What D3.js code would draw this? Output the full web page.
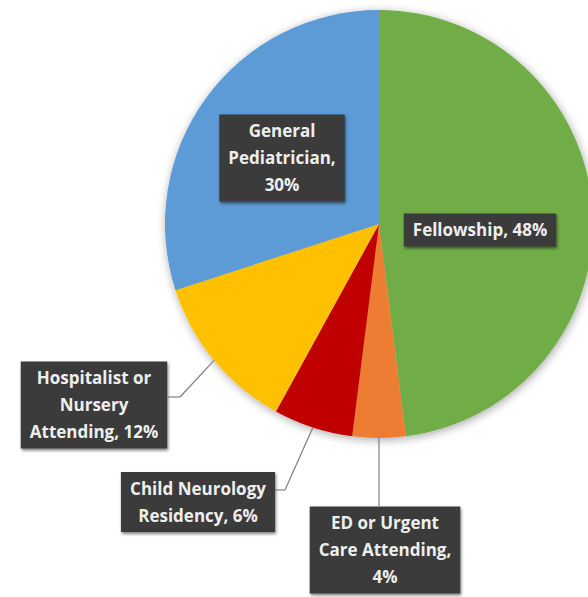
<!DOCTYPE html>
<html><head><meta charset="utf-8">
<script src="https://cdn.jsdelivr.net/npm/d3@7"></script>
<style>body{margin:0;background:#fff}svg{display:block}</style>
</head><body>
<svg id="c" width="588" height="597"></svg>
<script>
const categories = ["Fellowship", "ED or Urgent Care Attending", "Child Neurology Residency", "Hospitalist or Nursery Attending", "General Pediatrician"];
const values = [48, 4, 6, 12, 30];
const colors = ["#70AD47", "#ED7D31", "#C00000", "#FFC000", "#5B9BD5"];
const labelLines = [
  ["Fellowship, 48%"],
  ["ED or Urgent", "Care Attending,", "4%"],
  ["Child Neurology", "Residency, 6%"],
  ["Hospitalist or", "Nursery", "Attending, 12%"],
  ["General", "Pediatrician,", "30%"]
];
// label box centres (layout) and leader elbows
const labelPos = [[480, 230], [385, 550], [198, 502], [94, 405], [282, 158]];
const elbows = [null, null, [285, 490], [180, 397], null];

const svg = d3.select("#c");
const cx = 379, cy = 224, R = 214;
const defs = svg.append("defs");
const f = defs.append("filter").attr("id", "sh").attr("x", "-20%").attr("y", "-20%").attr("width", "140%").attr("height", "140%");
f.append("feGaussianBlur").attr("in", "SourceAlpha").attr("stdDeviation", 5).attr("result", "b");
f.append("feOffset").attr("in", "b").attr("dx", 1).attr("dy", 2).attr("result", "o");
f.append("feComponentTransfer").attr("in", "o").attr("result", "o2").append("feFuncA").attr("type", "linear").attr("slope", 0.35);
const m = f.append("feMerge"); m.append("feMergeNode").attr("in", "o2"); m.append("feMergeNode").attr("in", "SourceGraphic");
const f2 = defs.append("filter").attr("id", "sh2").attr("x", "-20%").attr("y", "-20%").attr("width", "140%").attr("height", "140%");
f2.append("feGaussianBlur").attr("in", "SourceAlpha").attr("stdDeviation", 1.5).attr("result", "b");
f2.append("feOffset").attr("in", "b").attr("dx", 1).attr("dy", 1.5).attr("result", "o");
f2.append("feComponentTransfer").attr("in", "o").attr("result", "o2").append("feFuncA").attr("type", "linear").attr("slope", 0.5);
const m2 = f2.append("feMerge"); m2.append("feMergeNode").attr("in", "o2"); m2.append("feMergeNode").attr("in", "SourceGraphic");

const pie = d3.pie().sort(null).value(d => d)(values);
const arc = d3.arc().innerRadius(0).outerRadius(R);
const g = svg.append("g").attr("transform", `translate(${cx},${cy})`);
const pg = g.append("g").attr("filter", "url(#sh)");
pg.selectAll("path").data(pie).join("path")
  .attr("d", arc).attr("fill", (d, i) => colors[i])
  .attr("stroke", "none");

// leader lines
pie.forEach((d, i) => {
  const a = (d.startAngle + d.endAngle) / 2;
  const ex = cx + R * Math.sin(a), ey = cy - R * Math.cos(a);
  const lp = labelPos[i];
  if (i === 1) {
    svg.append("path").attr("d", `M${ex},${ey}V${lp[1] - 44}`).attr("stroke", "#7f7f7f").attr("fill", "none").attr("stroke-width", 1.2);
  } else if (elbows[i]) {
    svg.append("path").attr("class", "ld" + i).attr("d", `M${ex},${ey}L${elbows[i][0]},${elbows[i][1]}`).attr("stroke", "#7f7f7f").attr("fill", "none").attr("stroke-width", 1.2);
  }
});

const fs = 17, lh = 27;
labelLines.forEach((lines, i) => {
  const [x, y] = labelPos[i];
  const lg = svg.append("g").attr("transform", `translate(${x},${y})`);
  const rect = lg.append("rect").attr("fill", "#3a3a3a").attr("filter", "url(#sh2)");
  const t = lg.append("text").attr("text-anchor", "middle")
    .attr("font-family", "'Open Sans', sans-serif").attr("font-weight", "bold")
    .attr("font-size", fs).attr("fill", "#eeeeee");
  const n = lines.length;
  lines.forEach((s, k) => {
    t.append("tspan").attr("x", 0).attr("y", (k - (n - 1) / 2) * lh + fs * 0.36).text(s);
  });
  const bb = t.node().getBBox();
  const w = bb.width + 18, h = n * lh + 6;
  rect.attr("x", -w / 2).attr("y", -h / 2).attr("width", w).attr("height", h);
  if (elbows[i]) {
    svg.append("line").attr("x1", elbows[i][0]).attr("y1", elbows[i][1]).attr("x2", x + w / 2).attr("y2", elbows[i][1])
      .attr("stroke", "#7f7f7f").attr("stroke-width", 1.2);
  }
});
</script>
</body></html>
